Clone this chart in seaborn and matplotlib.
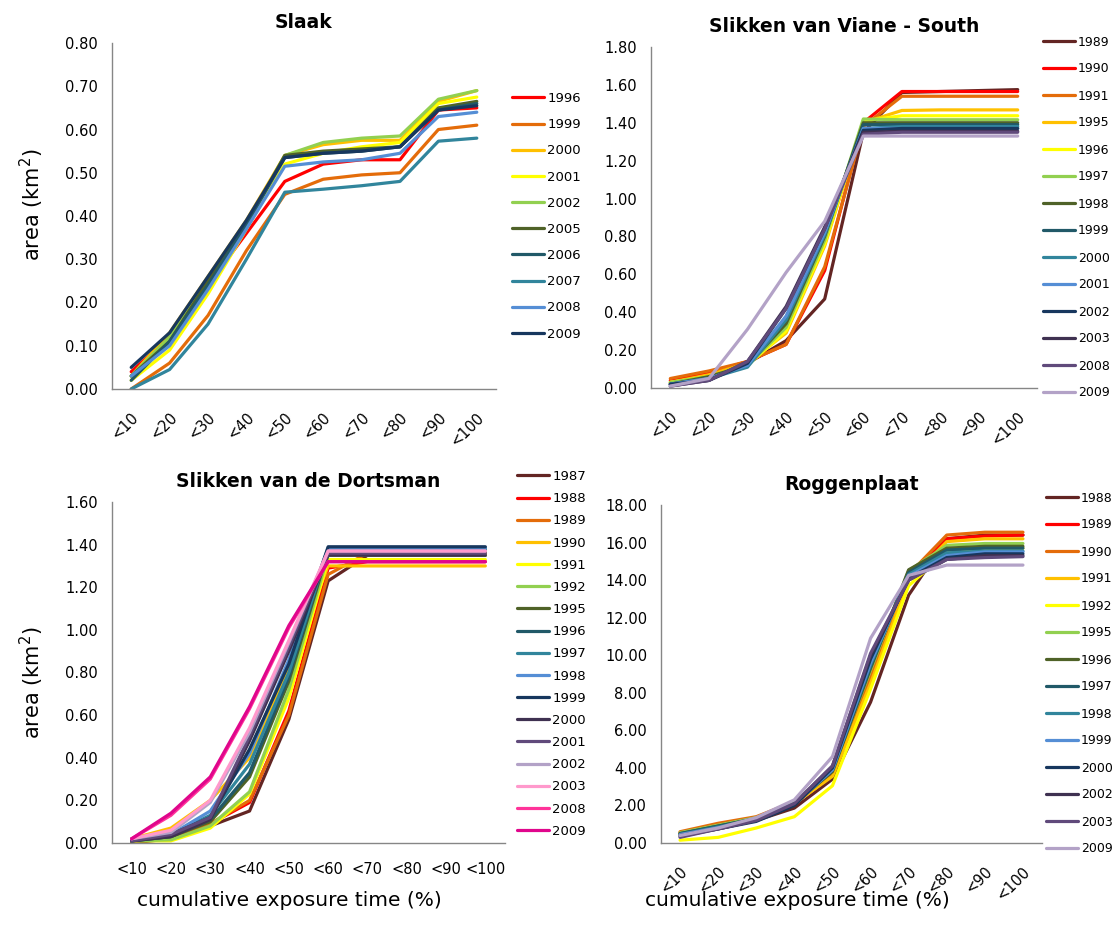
import matplotlib
matplotlib.use('Agg')
import matplotlib.pyplot as plt
import seaborn as sns
import pandas as pd

# categorias do eixo x
categorias = ['<10', '<20', '<30', '<40', '<50', '<60', '<70', '<80', '<90', '<100']

# paleta no estilo do Excel (ordem das series)
cores = ['#632523', '#FF0000', '#E46C0A', '#FFC000', '#FFFF00', '#92D050', '#4F6228',
         '#215968', '#31859C', '#558ED5', '#17375E', '#3F3151', '#604A7B', '#B3A2C7',
         '#FF99CC', '#FF3399', '#E0068C']

# Slaak
anos_slaak = ['1996', '1999', '2000', '2001', '2002', '2005', '2006', '2007', '2008', '2009']
slaak = [
    [0.04, 0.12, 0.24, 0.36, 0.48, 0.52, 0.53, 0.53, 0.645, 0.65],
    [0.00, 0.06, 0.17, 0.32, 0.45, 0.485, 0.495, 0.50, 0.60, 0.61],
    [0.03, 0.13, 0.26, 0.39, 0.54, 0.565, 0.575, 0.575, 0.665, 0.69],
    [0.02, 0.09, 0.22, 0.37, 0.52, 0.545, 0.56, 0.57, 0.66, 0.675],
    [0.03, 0.12, 0.25, 0.38, 0.54, 0.57, 0.58, 0.585, 0.67, 0.69],
    [0.03, 0.11, 0.25, 0.38, 0.54, 0.55, 0.555, 0.56, 0.65, 0.665],
    [0.02, 0.11, 0.24, 0.38, 0.535, 0.545, 0.55, 0.56, 0.645, 0.66],
    [0.00, 0.045, 0.15, 0.30, 0.455, 0.462, 0.47, 0.48, 0.573, 0.58],
    [0.03, 0.10, 0.23, 0.37, 0.515, 0.525, 0.53, 0.545, 0.63, 0.64],
    [0.05, 0.13, 0.26, 0.39, 0.535, 0.545, 0.55, 0.56, 0.645, 0.655],
]
cores_slaak = cores[1:11]

# Slikken van Viane - South
anos_viane = ['1989', '1990', '1991', '1995', '1996', '1997', '1998', '1999', '2000',
              '2001', '2002', '2003', '2008', '2009']
viane = [
    [0.02, 0.07, 0.13, 0.25, 0.47, 1.35, 1.56, 1.565, 1.57, 1.575],
    [0.04, 0.08, 0.14, 0.23, 0.62, 1.40, 1.565, 1.565, 1.565, 1.565],
    [0.05, 0.09, 0.14, 0.23, 0.64, 1.38, 1.54, 1.54, 1.54, 1.54],
    [0.03, 0.07, 0.13, 0.29, 0.75, 1.40, 1.465, 1.468, 1.468, 1.468],
    [0.03, 0.06, 0.12, 0.30, 0.76, 1.41, 1.437, 1.437, 1.437, 1.437],
    [0.03, 0.06, 0.12, 0.32, 0.78, 1.42, 1.416, 1.416, 1.416, 1.416],
    [0.02, 0.06, 0.12, 0.34, 0.80, 1.40, 1.40, 1.40, 1.40, 1.40],
    [0.02, 0.05, 0.12, 0.36, 0.81, 1.39, 1.39, 1.39, 1.39, 1.39],
    [0.02, 0.05, 0.11, 0.36, 0.81, 1.37, 1.38, 1.38, 1.38, 1.38],
    [0.02, 0.05, 0.12, 0.38, 0.82, 1.37, 1.37, 1.37, 1.37, 1.37],
    [0.02, 0.04, 0.13, 0.42, 0.84, 1.36, 1.37, 1.37, 1.37, 1.37],
    [0.01, 0.04, 0.14, 0.43, 0.85, 1.35, 1.355, 1.355, 1.355, 1.355],
    [0.01, 0.04, 0.14, 0.42, 0.84, 1.34, 1.35, 1.35, 1.35, 1.35],
    [0.01, 0.05, 0.31, 0.61, 0.88, 1.33, 1.33, 1.33, 1.33, 1.33],
]
cores_viane = cores[0:14]

# Slikken van de Dortsman
anos_dortsman = ['1987', '1988', '1989', '1990', '1991', '1992', '1995', '1996', '1997',
                 '1998', '1999', '2000', '2001', '2002', '2003', '2008', '2009']
dortsman = [
    [0.00, 0.02, 0.08, 0.15, 0.58, 1.23, 1.35, 1.35, 1.35, 1.35],
    [0.01, 0.02, 0.09, 0.19, 0.62, 1.29, 1.32, 1.32, 1.32, 1.32],
    [0.01, 0.02, 0.09, 0.20, 0.60, 1.26, 1.36, 1.36, 1.36, 1.36],
    [0.02, 0.07, 0.20, 0.40, 0.82, 1.30, 1.30, 1.30, 1.30, 1.30],
    [0.01, 0.01, 0.07, 0.23, 0.68, 1.33, 1.33, 1.33, 1.33, 1.33],
    [0.01, 0.015, 0.08, 0.24, 0.72, 1.35, 1.35, 1.35, 1.35, 1.35],
    [0.01, 0.03, 0.10, 0.31, 0.76, 1.37, 1.37, 1.37, 1.37, 1.37],
    [0.01, 0.03, 0.11, 0.33, 0.78, 1.38, 1.38, 1.38, 1.38, 1.38],
    [0.02, 0.04, 0.13, 0.37, 0.80, 1.38, 1.38, 1.38, 1.38, 1.38],
    [0.02, 0.04, 0.15, 0.42, 0.86, 1.385, 1.385, 1.385, 1.385, 1.385],
    [0.01, 0.04, 0.12, 0.44, 0.84, 1.39, 1.39, 1.39, 1.39, 1.39],
    [0.01, 0.03, 0.11, 0.48, 0.90, 1.35, 1.35, 1.35, 1.35, 1.35],
    [0.01, 0.04, 0.12, 0.50, 0.92, 1.36, 1.36, 1.36, 1.36, 1.36],
    [0.02, 0.05, 0.19, 0.52, 0.94, 1.37, 1.37, 1.37, 1.37, 1.37],
    [0.02, 0.06, 0.20, 0.54, 0.95, 1.37, 1.37, 1.37, 1.37, 1.37],
    [0.02, 0.13, 0.30, 0.63, 1.01, 1.32, 1.32, 1.32, 1.32, 1.32],
    [0.02, 0.14, 0.31, 0.64, 1.02, 1.32, 1.32, 1.32, 1.32, 1.32],
]
cores_dortsman = cores[0:17]

# Roggenplaat
anos_rogg = ['1988', '1989', '1990', '1991', '1992', '1995', '1996', '1997', '1998',
             '1999', '2000', '2002', '2003', '2009']
rogg = [
    [0.50, 0.80, 1.20, 1.86, 3.40, 7.50, 13.20, 16.20, 16.40, 16.40],
    [0.55, 0.95, 1.35, 2.10, 3.60, 8.60, 14.20, 16.20, 16.35, 16.40],
    [0.60, 1.05, 1.40, 2.20, 3.70, 8.80, 14.30, 16.40, 16.55, 16.55],
    [0.50, 0.90, 1.30, 2.10, 3.55, 8.50, 14.00, 16.05, 16.20, 16.20],
    [0.15, 0.30, 0.80, 1.40, 3.05, 8.20, 13.70, 15.50, 15.70, 15.70],
    [0.55, 0.95, 1.35, 2.15, 3.90, 9.20, 14.50, 15.85, 15.95, 15.95],
    [0.50, 0.90, 1.30, 2.10, 3.80, 9.30, 14.55, 15.70, 15.80, 15.80],
    [0.50, 0.90, 1.30, 2.10, 3.90, 9.40, 14.40, 15.60, 15.70, 15.70],
    [0.45, 0.85, 1.25, 2.10, 3.90, 9.50, 14.30, 15.45, 15.55, 15.55],
    [0.45, 0.80, 1.20, 2.05, 3.90, 9.60, 14.20, 15.30, 15.50, 15.50],
    [0.40, 0.75, 1.15, 2.00, 4.00, 9.80, 14.10, 15.20, 15.40, 15.40],
    [0.35, 0.75, 1.20, 2.10, 4.10, 10.00, 14.00, 15.10, 15.30, 15.30],
    [0.30, 0.75, 1.20, 2.10, 4.10, 10.10, 14.00, 15.10, 15.20, 15.25],
    [0.40, 0.80, 1.35, 2.30, 4.60, 10.90, 14.25, 14.80, 14.80, 14.80],
]
cores_rogg = cores[0:14]

W, H = 1117, 942
fig = plt.figure(figsize=(W / 100, H / 100), dpi=100)
sns.set_style('white')
plt.rcParams['font.family'] = ['DejaVu Sans']
plt.rcParams['text.color'] = 'black'


def px(x0, y0, x1, y1):
    # caixa em pixels -> fracao da figura
    return [x0 / W, 1 - y1 / H, (x1 - x0) / W, (y1 - y0) / H]


def painel(caixa, titulo, anos, valores, paleta, ymax, passo, girar,
           leg_x, leg_y, leg_passo, fs=9.5):
    ax = fig.add_axes(px(*caixa))
    linhas = []
    for ano, serie in zip(anos, valores):
        for i, v in enumerate(serie):
            linhas.append({'x': i, 'valor': v, 'ano': ano})
    df = pd.DataFrame(linhas)
    sns.lineplot(data=df, x='x', y='valor', hue='ano', hue_order=anos, palette=paleta,
                 linewidth=2.3, sort=False, legend=False, ax=ax)
    ax.set_xlim(-0.5, len(categorias) - 0.5)
    ax.set_ylim(0, ymax)
    n = int(round(ymax / passo))
    ax.set_yticks([k * passo for k in range(n + 1)])
    ax.set_yticklabels(['%.2f' % (k * passo) for k in range(n + 1)], fontsize=10.5)
    ax.set_xticks(range(len(categorias)))
    if girar:
        ax.set_xticklabels(categorias, rotation=45, ha='right', rotation_mode='anchor', fontsize=10.5)
        ax.tick_params(axis='x', which='major', length=0, pad=15)
    else:
        ax.set_xticklabels(categorias, fontsize=10.5)
        ax.tick_params(axis='x', which='major', length=0, pad=14)
    ax.set_xticks([i - 0.5 for i in range(len(categorias) + 1)], minor=True)
    ax.tick_params(axis='x', which='minor', length=5, color='#868686', width=1)
    ax.tick_params(axis='y', length=4, color='#868686', width=1, pad=6)
    ax.tick_params(labelcolor='black')
    for s in ['top', 'right']:
        ax.spines[s].set_visible(False)
    for s in ['left', 'bottom']:
        ax.spines[s].set_color('#868686')
        ax.spines[s].set_linewidth(1)
    ax.set_xlabel('')
    ax.set_ylabel('')
    ax.set_title(titulo, fontsize=13.5, fontweight='bold', pad=11, color='black')
    fs_px = fs * 100 / 72
    alto = fs_px * 1.2
    ax.legend(ax.lines[:len(anos)], anos, loc='upper left',
              bbox_to_anchor=(leg_x / W, 1 - (leg_y - alto / 2) / H),
              bbox_transform=fig.transFigure, frameon=False, fontsize=fs,
              borderpad=0, borderaxespad=0, handlelength=32 / fs_px, handletextpad=0.25,
              labelspacing=(leg_passo - alto) / fs_px)
    return ax


painel((112, 43, 496, 389), 'Slaak', anos_slaak, slaak, cores_slaak,
       0.8, 0.1, True, 512, 100, 29)
painel((651, 47, 1037, 388), 'Slikken van Viane - South', anos_viane, viane, cores_viane,
       1.8, 0.2, True, 1043, 43, 29, fs=9)
painel((112, 502, 505, 843), 'Slikken van de Dortsman', anos_dortsman, dortsman, cores_dortsman,
       1.6, 0.2, False, 517, 478, 25)
painel((661, 505, 1042, 843), 'Roggenplaat', anos_rogg, rogg, cores_rogg,
       18, 2, True, 1046, 499, 29, fs=9)

fig.text(32 / W, 1 - 205 / H, 'area (km$^2$)', rotation=90, ha='center', va='center', fontsize=15)
fig.text(32 / W, 1 - 683 / H, 'area (km$^2$)', rotation=90, ha='center', va='center', fontsize=15)
fig.text(289 / W, 1 - 900 / H, 'cumulative exposure time (%)', ha='center', va='center', fontsize=14.5)
fig.text(797 / W, 1 - 900 / H, 'cumulative exposure time (%)', ha='center', va='center', fontsize=14.5)

plt.savefig('out.png', dpi=100)
